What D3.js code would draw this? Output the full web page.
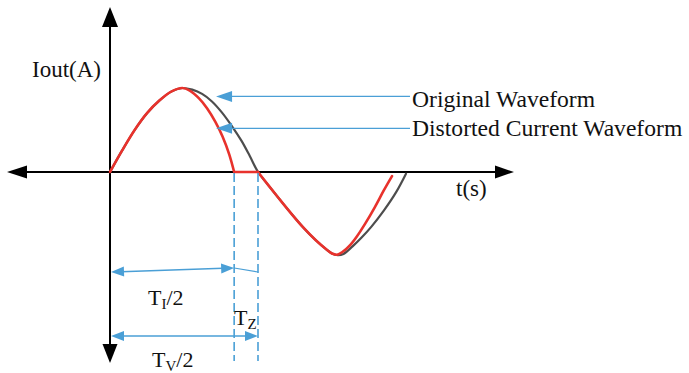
<!DOCTYPE html>
<html>
<head>
<meta charset="utf-8">
<script src="https://cdn.jsdelivr.net/npm/d3@7"></script>
<style>
  html, body { margin: 0; padding: 0; background: #fff; }
  svg { display: block; }
</style>
</head>
<body>
<svg id="chart" width="689" height="373"></svg>
<script>
// Time as voltage phase angle (degrees), current in per-unit of its peak.
const originalT = [0, 15, 30, 45, 60, 75, 88, 100, 112, 124, 136, 148, 160, 170, 180,
                   192, 205, 220, 235, 250, 263, 270, 277, 284, 295, 306, 318, 333, 348, 360];
const originalI = [0, 0.26, 0.50, 0.70, 0.85, 0.96, 1.0, 0.98, 0.93, 0.84, 0.71, 0.55, 0.37, 0.19, 0,
                   -0.15, -0.31, -0.49, -0.66, -0.81, -0.92, -0.97, -0.99, -0.975, -0.885, -0.78, -0.65, -0.46, -0.24, -0.02];

const distortedT = [0, 15, 30, 45, 60, 75, 88, 97, 108, 118, 128, 137, 145, 151, 180,
                    192, 205, 220, 235, 250, 263, 270, 276, 283, 292, 300, 310, 322, 333, 343];
const distortedI = [0, 0.26, 0.50, 0.70, 0.85, 0.96, 1.0, 0.97, 0.88, 0.76, 0.60, 0.42, 0.21, 0, 0,
                    -0.15, -0.31, -0.49, -0.66, -0.81, -0.92, -0.97, -0.985, -0.95, -0.87, -0.77, -0.62, -0.42, -0.22, -0.05];

// Half periods of the distorted current (T_I/2) and of the voltage (T_V/2), degrees.
const halfPeriodCurrent = 151;
const halfPeriodVoltage = 180;

const legendLabels = ["Original Waveform", "Distorted Current Waveform"];
const legendTargetT = [129, 129];
const legendTargetI = [0.90, 0.52];

const yAxisLabel = "Iout(A)";
const xAxisLabel = "t(s)";

const serif = "'Liberation Serif', 'DejaVu Serif', 'Times New Roman', serif";
const svg = d3.select("#chart");

const x = d3.scaleLinear().domain([0, 180]).range([110, 258]);
const y = d3.scaleLinear().domain([0, 1]).range([172, 88]);

const blue = "#4a9fd6";
const ink = "#000";

// Filled triangular arrowhead; dir is the pointing direction in degrees (0 = right).
function arrowHead(g, tipX, tipY, dir, len, halfW, fill) {
  const a = dir * Math.PI / 180;
  const bx = tipX - len * Math.cos(a), by = tipY - len * Math.sin(a);
  const px = -Math.sin(a) * halfW, py = Math.cos(a) * halfW;
  g.append("path")
    .attr("d", `M${tipX},${tipY}L${bx + px},${by + py}L${bx - px},${by - py}Z`)
    .attr("fill", fill);
}

function label(px, py, size, str) {
  return svg.append("text").attr("x", px).attr("y", py)
    .attr("font-family", serif).attr("font-size", size).attr("fill", "#111").text(str);
}

// Axes with arrowheads at both ends
const axes = svg.append("g");
const x0 = x(0), y0 = y(0);
axes.append("line").attr("x1", 12).attr("x2", 508).attr("y1", y0).attr("y2", y0)
  .attr("stroke", ink).attr("stroke-width", 2);
axes.append("line").attr("x1", x0).attr("x2", x0).attr("y1", 12).attr("y2", 358)
  .attr("stroke", ink).attr("stroke-width", 2);
arrowHead(axes, 7, y0, 180, 20, 6.5, ink);
arrowHead(axes, 514, y0, 0, 19, 6.5, ink);
arrowHead(axes, x0, 7, -90, 20, 8, ink);
arrowHead(axes, x0, 363, 90, 19, 7.5, ink);

label(32, 77, 23, yAxisLabel);
label(456, 196, 23, xAxisLabel);

// Waveforms
const line = d3.line()
  .x(d => x(d[0]))
  .y(d => y(d[1]))
  .curve(d3.curveCatmullRom.alpha(0.5));

const original = originalT.map((t, i) => [t, originalI[i]]);
const distorted = distortedT.map((t, i) => [t, distortedI[i]]);

svg.append("path").attr("d", line(original))
  .attr("fill", "none").attr("stroke", "#4d4d4d").attr("stroke-width", 2.2)
  .attr("stroke-linejoin", "round").attr("stroke-linecap", "round");

// Distorted current: conducting half, zero-current dead band, next half
const pieces = [
  distorted.filter(d => d[0] <= halfPeriodCurrent),
  distorted.filter(d => d[0] >= halfPeriodCurrent && d[0] <= halfPeriodVoltage),
  distorted.filter(d => d[0] >= halfPeriodVoltage)
];
pieces.forEach(p => {
  svg.append("path").attr("d", line(p))
    .attr("fill", "none").attr("stroke", "#e8322c").attr("stroke-width", 2.6)
    .attr("stroke-linejoin", "round").attr("stroke-linecap", "round");
});

// Legend arrows pointing at the curves
const legendY = [107, 136];
legendLabels.forEach((lbl, i) => {
  const tx = x(legendTargetT[i]), ty = y(legendTargetI[i]);
  svg.append("line").attr("x1", tx + 14).attr("x2", 410).attr("y1", ty).attr("y2", ty)
    .attr("stroke", blue).attr("stroke-width", 1.3);
  arrowHead(svg, tx, ty, 180, 16, 5.5, blue);
  label(412, legendY[i], 23.6, lbl);
});

// Dashed markers at T_I/2 and T_V/2
const xI = x(halfPeriodCurrent), xV = x(halfPeriodVoltage);
[xI, xV].forEach(px => {
  svg.append("line").attr("x1", px).attr("x2", px).attr("y1", y0 + 1).attr("y2", 361)
    .attr("stroke", blue).attr("stroke-width", 1.6).attr("stroke-dasharray", "9,4");
});

// Dimension arrows
const dim = svg.append("g");
dim.append("line").attr("x1", x0 + 4).attr("x2", xI - 4).attr("y1", 272).attr("y2", 268)
  .attr("stroke", blue).attr("stroke-width", 1.4);
arrowHead(dim, x0 + 1, 272, 178.1, 13, 5, blue);
arrowHead(dim, xI, 268, -1.9, 13, 5, blue);
dim.append("line").attr("x1", xI).attr("x2", xV).attr("y1", 268).attr("y2", 272)
  .attr("stroke", blue).attr("stroke-width", 1.2);

dim.append("line").attr("x1", x0 + 4).attr("x2", xV - 4).attr("y1", 336).attr("y2", 336)
  .attr("stroke", blue).attr("stroke-width", 1.4);
arrowHead(dim, x0 + 1, 336, 180, 13, 5, blue);
arrowHead(dim, xV, 336, 0, 13, 5, blue);

// Period labels with subscripts
function periodLabel(px, py, sub, tail) {
  const t = label(px, py, 22, null);
  t.append("tspan").text("T");
  t.append("tspan").attr("font-size", 15).attr("dy", 4).text(sub);
  if (tail) t.append("tspan").attr("dy", -4).text(tail);
}
periodLabel(148, 305, "I", "/2");
periodLabel(234, 325, "Z", "");
periodLabel(152, 367, "V", "/2");
</script>
</body>
</html>
